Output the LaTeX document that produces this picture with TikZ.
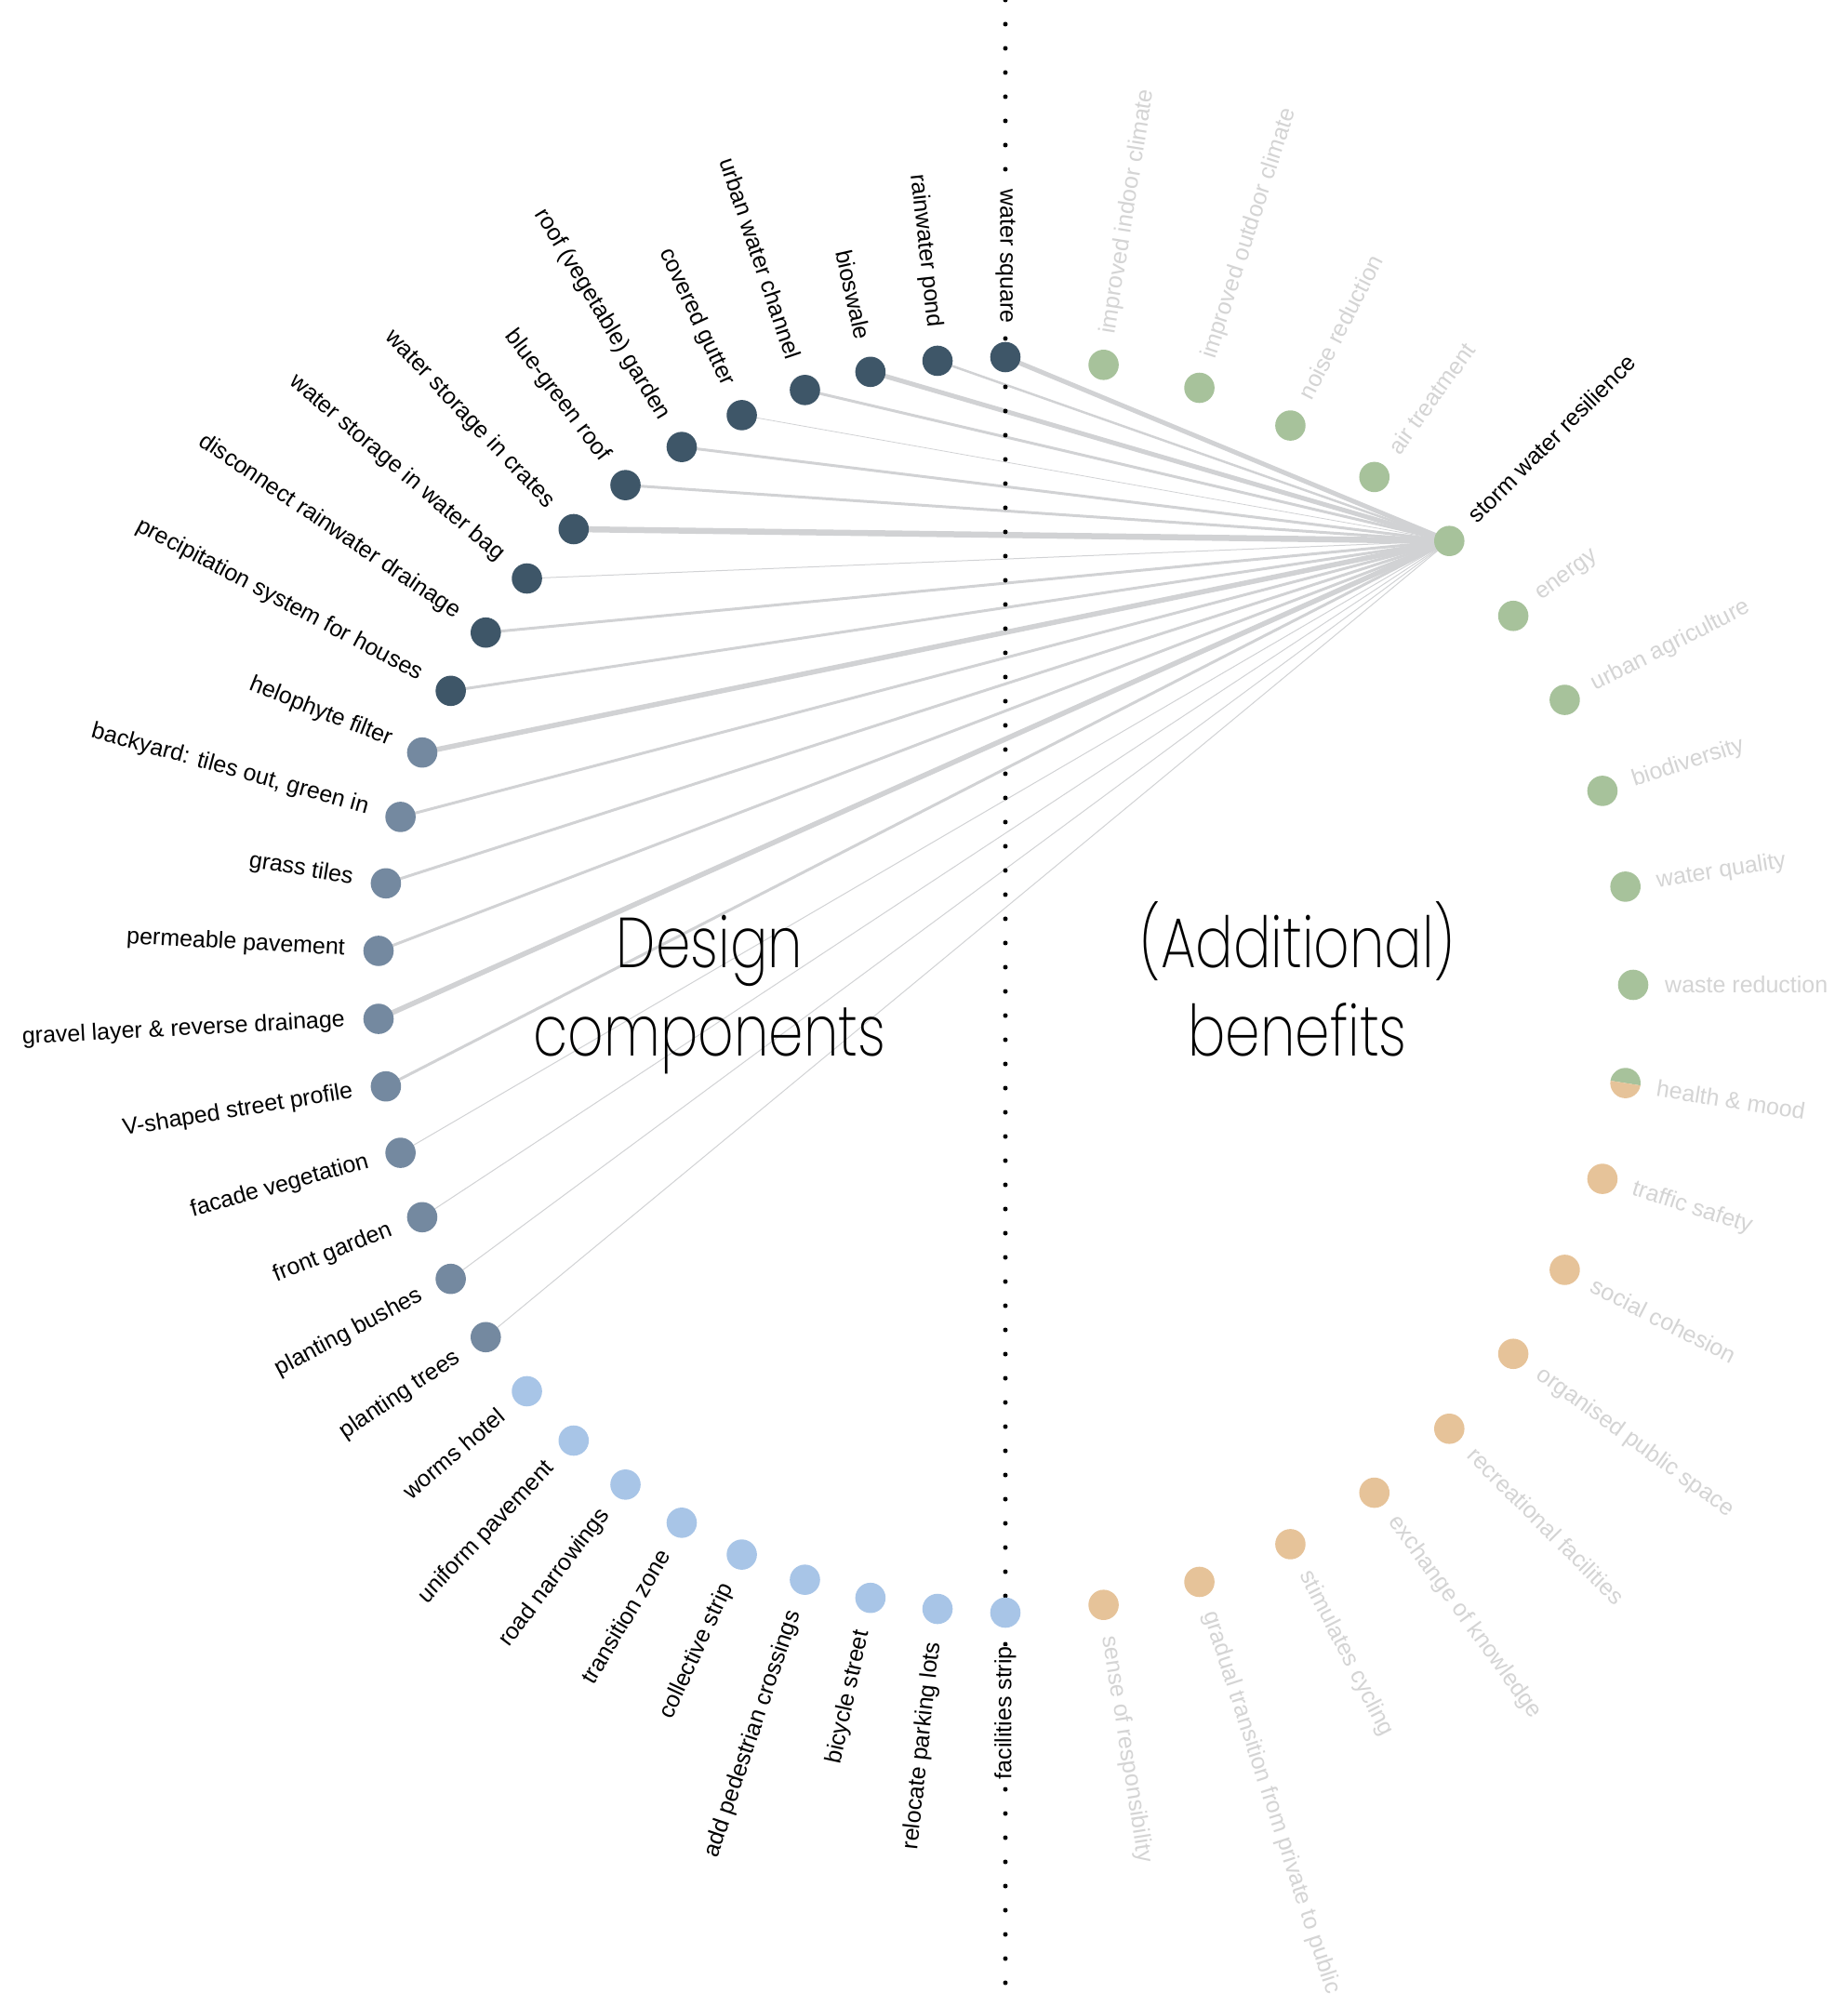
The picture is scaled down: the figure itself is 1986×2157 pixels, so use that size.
\documentclass[tikz,border=0pt]{standalone}
\usepackage{fontspec}
\setmainfont{Liberation Sans}
\newfontfamily\titlefont{Poppins ExtraLight}
\usetikzlibrary{backgrounds}
\definecolor{cdark}{HTML}{3E5668}
\definecolor{cmid}{HTML}{7489A0}
\definecolor{clight}{HTML}{A8C5E7}
\definecolor{bgreen}{HTML}{A7C29B}
\definecolor{borange}{HTML}{E6C399}
\definecolor{linkgray}{HTML}{D1D2D4}
\definecolor{labgray}{HTML}{D4D4D4}
\tikzset{
    bubble/.style={circle, inner sep=0pt, minimum size=32.6pt},
    clab/.style={font=\fontsize{25}{30}\selectfont, inner sep=0pt, fill=white, anchor=east},
    blab/.style={font=\fontsize{25}{30}\selectfont, inner sep=0pt, fill=white, anchor=west},
    link/.style={draw=linkgray},
    divider/.style={black, line width=5pt, line cap=round, dash pattern=on 0pt off 26pt},
    title/.style={font=\titlefont\fontsize{76}{90}\selectfont, anchor=base, xscale=0.79}
}

\begin{document}
\begin{tikzpicture}[x=1pt, y=1pt]
    \useasboundingbox (-1081,-1098) rectangle (905,1059);

    % Design components (left half)
    \foreach \txt/\col [count=\i from 0] in {water square/cdark, rainwater pond/cdark,
        bioswale/cdark, urban water channel/cdark, covered gutter/cdark,
        roof (vegetable) garden/cdark, blue-green roof/cdark, water storage in crates/cdark,
        water storage in water bag/cdark, disconnect rainwater drainage/cdark,
        precipitation system for houses/cdark, helophyte filter/cmid,
        {backyard: tiles out, green in}/cmid, grass tiles/cmid, permeable pavement/cmid,
        gravel layer \& reverse drainage/cmid, V-shaped street profile/cmid,
        facade vegetation/cmid, front garden/cmid, planting bushes/cmid, planting trees/cmid,
        worms hotel/clight, uniform pavement/clight, road narrowings/clight,
        transition zone/clight, collective strip/clight, add pedestrian crossings/clight,
        bicycle street/clight, relocate parking lots/clight, facilities strip/clight}{
        \pgfmathsetmacro\ang{90+\i*180/29}
        \node[bubble, fill=\col] (c\i) at (\ang:675) {};
        \node[clab, rotate=\ang-180] (cl\i) at (\ang:711) {\txt};
    }

    % (Additional) benefits (right half)
    \foreach \txt/\col/\tcol [count=\k] in {improved indoor climate/bgreen/labgray,
        improved outdoor climate/bgreen/labgray, noise reduction/bgreen/labgray,
        air treatment/bgreen/labgray, storm water resilience/bgreen/black,
        energy/bgreen/labgray, urban agriculture/bgreen/labgray, biodiversity/bgreen/labgray,
        water quality/bgreen/labgray, waste reduction/bgreen/labgray,
        health \& mood/none/labgray, traffic safety/borange/labgray,
        social cohesion/borange/labgray, organised public space/borange/labgray,
        recreational facilities/borange/labgray, exchange of knowledge/borange/labgray,
        stimulates cycling/borange/labgray,
        gradual transition from private to public/borange/labgray,
        sense of responsibility/borange/labgray}{
        \pgfmathsetmacro\ang{90-9*\k}
        \node[bubble, fill=\col] (b\k) at (\ang:675) {};
        \node[blab, rotate=\ang, text=\tcol] (bl\k) at (\ang:709) {\txt};
    }
    % half green, half orange
    \fill[bgreen] (b11.center) -- ++(-9:16.3) arc[start angle=-9, end angle=171, radius=16.3] -- cycle;
    \fill[borange] (b11.center) -- ++(171:16.3) arc[start angle=171, end angle=351, radius=16.3] -- cycle;

    % Links from storm water resilience
    \begin{scope}[on background layer]
        \foreach \i/\w in {0/5, 1/2.5, 2/5, 3/3, 4/0.8, 5/3, 6/3, 7/6.5, 8/1, 9/3, 10/3,
            11/5.5, 12/3, 13/3, 14/3, 15/5.5, 16/3, 17/1, 18/1, 19/1, 20/1}
            \draw[link, line width=\w] (b5.center) -- (c\i.center);
        % dividing line
        \coordinate (top) at (0,1059);
        \coordinate (bottom) at (0,-1098);
        \draw[divider] (top) -- (bottom);
    \end{scope}

    % Titles
    \node[title] (design) at (-318,19) {Design};
    \node[title] (components) at (-318,-76) {components};
    \node[title] (additional) at (314,18) {(Additional)};
    \node[title] (benefits) at (314,-76) {benefits};
\end{tikzpicture}
\end{document}
